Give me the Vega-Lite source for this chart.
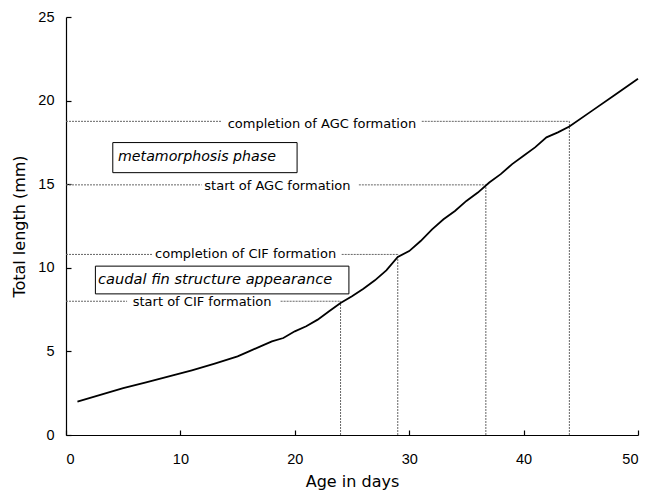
{
  "$schema": "https://vega.github.io/schema/vega-lite/v6.json",
  "width": 572,
  "height": 418,
  "autosize": "none",
  "padding": {"left": 66, "top": 17, "right": 19, "bottom": 61},
  "background": "white",
  "config": {
    "view": {"stroke": null},
    "axis": {
      "domainColor": "black",
      "domainWidth": 1.2,
      "tickColor": "black",
      "tickWidth": 1.2,
      "tickSize": -5,
      "grid": false,
      "labelFont": "Liberation Sans",
      "labelFontSize": 14.5,
      "labelColor": "black",
      "titleFont": "DejaVu Sans",
      "titleFontSize": 16,
      "titleFontWeight": "normal",
      "titleColor": "black"
    }
  },
  "datasets": {
    "growth": [
      {"day": 1, "mm": 2.0}, {"day": 3, "mm": 2.4}, {"day": 5, "mm": 2.8},
      {"day": 7, "mm": 3.15}, {"day": 9, "mm": 3.5}, {"day": 10, "mm": 3.68},
      {"day": 11, "mm": 3.87}, {"day": 13, "mm": 4.27}, {"day": 15, "mm": 4.7},
      {"day": 16, "mm": 5.0}, {"day": 17, "mm": 5.3}, {"day": 18, "mm": 5.6},
      {"day": 19, "mm": 5.8}, {"day": 20, "mm": 6.2}, {"day": 21, "mm": 6.5},
      {"day": 22, "mm": 6.9}, {"day": 23, "mm": 7.4}, {"day": 24, "mm": 7.9},
      {"day": 25, "mm": 8.3}, {"day": 26, "mm": 8.75}, {"day": 27, "mm": 9.25},
      {"day": 28, "mm": 9.85}, {"day": 29, "mm": 10.65}, {"day": 30, "mm": 11.0},
      {"day": 31, "mm": 11.6}, {"day": 32, "mm": 12.3}, {"day": 33, "mm": 12.9},
      {"day": 34, "mm": 13.4}, {"day": 35, "mm": 14.0}, {"day": 36, "mm": 14.5},
      {"day": 37, "mm": 15.1}, {"day": 38, "mm": 15.6}, {"day": 39, "mm": 16.2},
      {"day": 40, "mm": 16.7}, {"day": 41, "mm": 17.2}, {"day": 42, "mm": 17.8},
      {"day": 43, "mm": 18.1}, {"day": 44, "mm": 18.45}, {"day": 46, "mm": 19.4},
      {"day": 48, "mm": 20.35}, {"day": 50, "mm": 21.3}
    ],
    "guides": [
      {"x1": 0, "x2": 13.6, "y1": 18.76, "y2": 18.76},
      {"x1": 31.1, "x2": 44, "y1": 18.76, "y2": 18.76},
      {"x1": 0, "x2": 11.85, "y1": 14.96, "y2": 14.96},
      {"x1": 25.6, "x2": 36.7, "y1": 14.96, "y2": 14.96},
      {"x1": 0, "x2": 7.6, "y1": 10.8, "y2": 10.8},
      {"x1": 24.1, "x2": 29, "y1": 10.8, "y2": 10.8},
      {"x1": 0, "x2": 5.34, "y1": 8.0, "y2": 8.0},
      {"x1": 18.76, "x2": 24, "y1": 8.0, "y2": 8.0},
      {"x1": 24, "x2": 24, "y1": 0, "y2": 8.0},
      {"x1": 29, "x2": 29, "y1": 0, "y2": 10.8},
      {"x1": 36.7, "x2": 36.7, "y1": 0, "y2": 14.96},
      {"x1": 44, "x2": 44, "y1": 0, "y2": 18.76}
    ],
    "labels": [
      {"x": 22.37, "y": 18.6, "text": "completion of AGC  formation"},
      {"x": 18.48, "y": 14.9, "text": "start of AGC formation"},
      {"x": 15.7, "y": 10.85, "text": "completion of CIF formation"},
      {"x": 11.9, "y": 7.95, "text": "start of CIF formation"}
    ],
    "boxes": [
      {"x1": 4.09, "x2": 20.2, "y1": 15.69, "y2": 17.49, "tx": 4.55, "ty": 16.62, "text": "metamorphosis phase", "size": 14.2},
      {"x1": 2.57, "x2": 24.73, "y1": 8.44, "y2": 10.1, "tx": 2.8, "ty": 9.3, "text": "caudal fin structure appearance", "size": 14.6}
    ]
  },
  "layer": [
    {
      "data": {"name": "guides"},
      "mark": {"type": "rule", "color": "#666666", "strokeWidth": 1, "strokeDash": [2, 1]},
      "encoding": {
        "x": {"field": "x1", "type": "quantitative", "scale": {"domain": [0, 50], "nice": false},
              "axis": {"values": [0, 10, 20, 30, 40, 50], "title": "Age in days", "labelPadding": 22, "titlePadding": 8}},
        "x2": {"field": "x2"},
        "y": {"field": "y1", "type": "quantitative", "scale": {"domain": [0, 25], "nice": false},
              "axis": {"values": [0, 5, 10, 15, 20, 25], "title": "Total length (mm)", "labelPadding": 17, "titlePadding": 10}},
        "y2": {"field": "y2"}
      }
    },
    {
      "data": {"name": "boxes"},
      "mark": {"type": "rect", "fill": "white", "fillOpacity": 0, "stroke": "black", "strokeWidth": 1},
      "encoding": {
        "x": {"field": "x1", "type": "quantitative"},
        "x2": {"field": "x2"},
        "y": {"field": "y1", "type": "quantitative"},
        "y2": {"field": "y2"}
      }
    },
    {
      "data": {"name": "boxes"},
      "mark": {"type": "text", "font": "DejaVu Sans", "fontStyle": "italic", "align": "left", "baseline": "middle", "color": "black"},
      "encoding": {
        "x": {"field": "tx", "type": "quantitative"},
        "y": {"field": "ty", "type": "quantitative"},
        "text": {"field": "text"},
        "size": {"field": "size", "type": "quantitative", "scale": null}
      }
    },
    {
      "data": {"name": "labels"},
      "mark": {"type": "text", "font": "DejaVu Sans", "fontSize": 13, "align": "center", "baseline": "middle", "color": "black"},
      "encoding": {
        "x": {"field": "x", "type": "quantitative"},
        "y": {"field": "y", "type": "quantitative"},
        "text": {"field": "text"}
      }
    },
    {
      "data": {"name": "growth"},
      "mark": {"type": "line", "color": "black", "strokeWidth": 1.8},
      "encoding": {
        "x": {"field": "day", "type": "quantitative"},
        "y": {"field": "mm", "type": "quantitative"}
      }
    }
  ]
}
